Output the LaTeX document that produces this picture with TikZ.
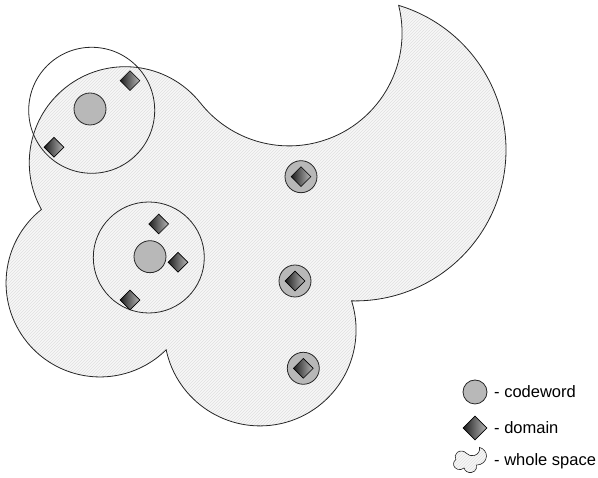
\documentclass[tikz,border=0pt]{standalone}
\usepackage{fontspec}
\setmainfont{Liberation Sans}
\usetikzlibrary{shapes.geometric,patterns}
\newcommand{\blobpath}{(41.15,268.3) arc[start angle=128.8, end angle=314.7, radius=94]
  arc[start angle=191.94, end angle=377.6, radius=96]
  arc[start angle=268.7, end angle=433.2, radius=151]
  arc[start angle=14.1, end angle=-141.6, radius=113]
  arc[start angle=38.4, end angle=209.1, radius=96] -- cycle}
\tikzset{
  spacefill/.style={draw=black!85, line width=0.8pt, preaction={fill=black!3}, pattern=north east lines, pattern color=black!12},
  regioncircle/.style={circle, draw=black!85, line width=0.8pt, inner sep=0pt},
  codewordmark/.style={circle, draw=black!85, line width=0.8pt, fill=black!28, inner sep=0pt, minimum size=32pt},
  domainmark/.style={diamond, draw=black, line width=0.6pt, left color=black!88, right color=black!28, inner sep=0pt, minimum width=20pt, minimum height=20pt},
  legtext/.style={anchor=west, font=\fontsize{16.5}{19}\selectfont, inner sep=0pt}
}
\begin{document}
\begin{tikzpicture}[x=1pt,y=1pt]
\useasboundingbox (0,0) rectangle (598,478);
% whole space
\draw[spacefill] \blobpath;
% regions
\node[regioncircle, minimum size=126pt] (r1) at (91.7,367.7) {};
\node[regioncircle, minimum size=111pt] (r2) at (148.8,220.5) {};
% codewords
\node[codewordmark] (c1) at (90,369) {};
\node[codewordmark] (c2) at (150,221.3) {};
\node[codewordmark] (c3) at (301,301.3) {};
\node[codewordmark] (c4) at (295,197) {};
\node[codewordmark] (c5) at (303.3,109.7) {};
% domains
\node[domainmark] (d1) at (130,397.3) {};
\node[domainmark] (d2) at (54,330.7) {};
\node[domainmark] (d3) at (158.7,254) {};
\node[domainmark] (d4) at (178,215.7) {};
\node[domainmark] (d5) at (130,178) {};
\node[domainmark] (d6) at (301,301.3) {};
\node[domainmark] (d7) at (295,197) {};
\node[domainmark] (d8) at (303.3,109.7) {};
% legend
\node[codewordmark, minimum size=24pt] (lc) at (475,86) {};
\node[domainmark, minimum width=24pt, minimum height=24pt] (ld) at (475,50) {};
\begin{scope}[shift={(470,18)}, xscale=0.066, yscale=0.06, shift={(-256,-262)}]
\draw[draw=black!85, line width=0.6pt, preaction={fill=black!3}, pattern=north east lines, pattern color=black!12] \blobpath;
\end{scope}
\node[legtext] (t1) at (494,86) {- codeword};
\node[legtext] (t2) at (494,50) {- domain};
\node[legtext] (t3) at (494,17) {- whole space};
\end{tikzpicture}
\end{document}
